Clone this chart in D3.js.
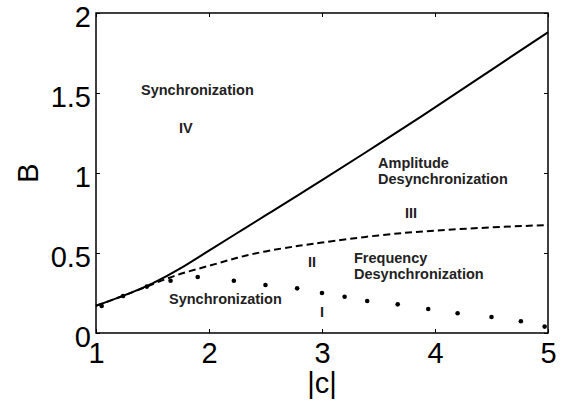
<!DOCTYPE html>
<html>
<head>
<meta charset="utf-8">
<script src="https://cdn.jsdelivr.net/npm/d3@7"></script>
<style>
  body { margin: 0; background: #fff; }
  svg { display: block; }
  text { font-family: "Liberation Sans", Arial, Helvetica, sans-serif; }
</style>
</head>
<body>
<script>
// data
const cVals   = [1, 1.25, 1.5, 1.75, 2, 2.25, 2.5, 2.75, 3, 3.5, 4, 4.5, 5];
const solidB  = [0.17, 0.235, 0.31, 0.405, 0.515, 0.625, 0.735, 0.845, 0.955, 1.18, 1.41, 1.645, 1.88];
const dashedB = [0.17, 0.235, 0.305, 0.37, 0.42, 0.47, 0.51, 0.54, 0.565, 0.61, 0.64, 0.66, 0.675];
const dotC = [1.05, 1.24, 1.45, 1.66, 1.90, 2.22, 2.50, 2.78, 3.0, 3.2, 3.4, 3.67, 3.94, 4.2, 4.5, 4.76, 4.97];
const dotB = [0.169, 0.231, 0.29, 0.327, 0.35, 0.327, 0.30, 0.279, 0.25, 0.227, 0.2, 0.179, 0.15, 0.123, 0.10, 0.073, 0.04];
const xTicks = [1, 2, 3, 4, 5];
const yTicks = [0, 0.5, 1, 1.5, 2];
const notes = [
  {t: "Synchronization", c: 1.398, b: 1.4875, a: "start"},
  {t: "IV", c: 1.796, b: 1.25, a: "middle"},
  {t: "Synchronization", c: 1.646, b: 0.181, a: "start"},
  {t: "I", c: 3.0, b: 0.1, a: "middle"},
  {t: "II", c: 2.912, b: 0.4125, a: "middle"},
  {t: "Frequency", c: 3.283, b: 0.4375, a: "start"},
  {t: "Desynchronization", c: 3.283, b: 0.3375, a: "start"},
  {t: "Amplitude", c: 3.496, b: 1.031, a: "start"},
  {t: "Desynchronization", c: 3.496, b: 0.931, a: "start"},
  {t: "III", c: 3.788, b: 0.719, a: "middle"}
];

const width = 566, height = 405;
const m = {left: 96, right: 18, top: 13, bottom: 72};
const font = "'Liberation Sans', Arial, sans-serif";

const svg = d3.select("body").append("svg")
  .attr("width", width).attr("height", height)
  .style("background", "#fff");

const x = d3.scaleLinear().domain([1, 5]).range([m.left, width - m.right]);
const y = d3.scaleLinear().domain([0, 2]).range([height - m.bottom, m.top]);

// box
svg.append("rect")
  .attr("x", x(1)).attr("y", y(2))
  .attr("width", x(5) - x(1)).attr("height", y(0) - y(2))
  .attr("fill", "none").attr("stroke", "#000").attr("stroke-width", 1.5);

// axes, ticks inward
const tk = 4;
const xb = svg.append("g").attr("transform", `translate(0,${y(0)})`)
  .call(d3.axisBottom(x).tickValues(xTicks).tickSizeInner(-tk).tickSizeOuter(0).tickPadding(9).tickFormat(d3.format("d")));
const xt = svg.append("g").attr("transform", `translate(0,${y(2)})`)
  .call(d3.axisTop(x).tickValues(xTicks).tickSizeInner(-tk).tickSizeOuter(0).tickFormat(""));
const yl = svg.append("g").attr("transform", `translate(${x(1)},0)`)
  .call(d3.axisLeft(y).tickValues(yTicks).tickSizeInner(-tk).tickSizeOuter(0).tickPadding(9).tickFormat(d => d));
const yr = svg.append("g").attr("transform", `translate(${x(5)},0)`)
  .call(d3.axisRight(y).tickValues(yTicks).tickSizeInner(-tk).tickSizeOuter(0).tickFormat(""));

[xb, xt, yl, yr].forEach(g => {
  g.select(".domain").remove();
  g.attr("font-family", null);
  g.selectAll("line").attr("stroke", "#000").attr("stroke-width", 1);
  g.selectAll("text").attr("fill", "#000").style("font-size", "29px")
    .style("font-family", font);
});
xb.selectAll("text").attr("dy", null).attr("y", 30);
yl.selectAll("text").attr("dy", "0.45em").attr("x", -5);

// axis labels
svg.append("text").text("|c|")
  .attr("x", x(3)).attr("y", 393)
  .attr("text-anchor", "middle").style("font-size", "29px").style("font-family", font);
svg.append("text").text("B")
  .attr("transform", `translate(38,${y(1)}) rotate(-90)`)
  .attr("text-anchor", "middle").style("font-size", "29px").style("font-family", font);

// curves
const pts = arr => cVals.map((c, i) => [c, arr[i]]);
const line = d3.line().x(d => x(d[0])).y(d => y(d[1])).curve(d3.curveNatural);

svg.append("path").attr("d", line(pts(solidB)))
  .attr("fill", "none").attr("stroke", "#000").attr("stroke-width", 2);
svg.append("path").attr("d", line(pts(dashedB)))
  .attr("fill", "none").attr("stroke", "#000").attr("stroke-width", 2)
  .attr("stroke-dasharray", "7,4");

svg.append("g").selectAll("circle")
  .data(dotC.map((c, i) => [c, dotB[i]]))
  .join("circle")
  .attr("cx", d => x(d[0])).attr("cy", d => y(d[1]))
  .attr("r", 2.3).attr("fill", "#000");

// region labels
svg.append("g").selectAll("text")
  .data(notes)
  .join("text")
  .text(d => d.t)
  .attr("x", d => x(d.c)).attr("y", d => y(d.b))
  .attr("text-anchor", d => d.a)
  .style("font-size", "14.5px").style("font-weight", "bold")
  .style("font-family", font)
  .attr("fill", "#222");
</script>
</body>
</html>
